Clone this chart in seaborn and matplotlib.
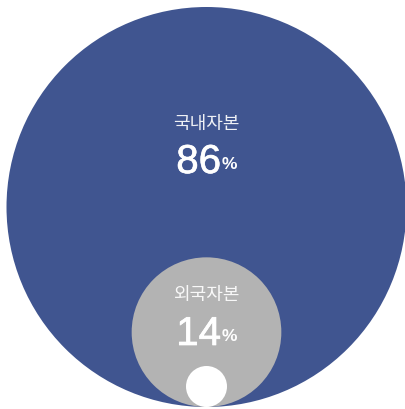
import numpy as np
import pandas as pd
import matplotlib
matplotlib.use("Agg")
import matplotlib.pyplot as plt
import matplotlib.patheffects as pe
from matplotlib.patches import Circle
import seaborn as sns

# ---- data ----
labels = ["국내자본", "외국자본"]
values = [86, 14]
colors = ["#405590", "#B3B3B3"]

sns.set_theme(style="white")
plt.rcParams["font.family"] = ["Noto Sans CJK KR", "DejaVu Sans"]

W, H = 406, 409
fig = plt.figure(figsize=(W / 100, H / 100), dpi=100)
ax = fig.add_axes([0, 0, 1, 1])
ax.set_xlim(0, W)
ax.set_ylim(H, 0)
ax.set_aspect("equal")
ax.axis("off")

total = sum(values)
R = 200.0
cx = 206.5
bottom = 407.0

df = pd.DataFrame({"label": labels, "value": values, "color": colors})
# outer circle represents total, inner circle represents its own share
radii = [R * np.sqrt(total / total), R * np.sqrt(values[1] / total)]
centers_y = [bottom - r for r in radii]

for r, cy, col in zip(radii, centers_y, colors):
    ax.add_patch(Circle((cx, cy), r, facecolor=col, edgecolor="none"))

# small white decorative circle at the bottom
rw = 20.5
ax.add_patch(Circle((cx, bottom - rw), rw, facecolor="white", edgecolor="none"))

stroke = [pe.withStroke(linewidth=0.5, foreground="white")]

# labels
label_y = [124, 295]
num_base = [173, 345]
for lab, val, ly, nb in zip(labels, values, label_y, num_base):
    ax.text(cx, ly, lab, ha="center", va="center", color="white", fontsize=13,
            alpha=0.92, family=["Noto Sans CJK KR", "DejaVu Sans"])
    ax.text(221, nb, f"{val}", ha="right", va="baseline", color="white",
            fontsize=29, family=["Liberation Sans", "DejaVu Sans"],
            path_effects=stroke)
    ax.text(222, nb - 4, "%", ha="left", va="baseline", color="white",
            fontsize=12.5, fontweight="bold", family=["Liberation Sans", "DejaVu Sans"])

fig.savefig("out.png", dpi=100, facecolor="white")
